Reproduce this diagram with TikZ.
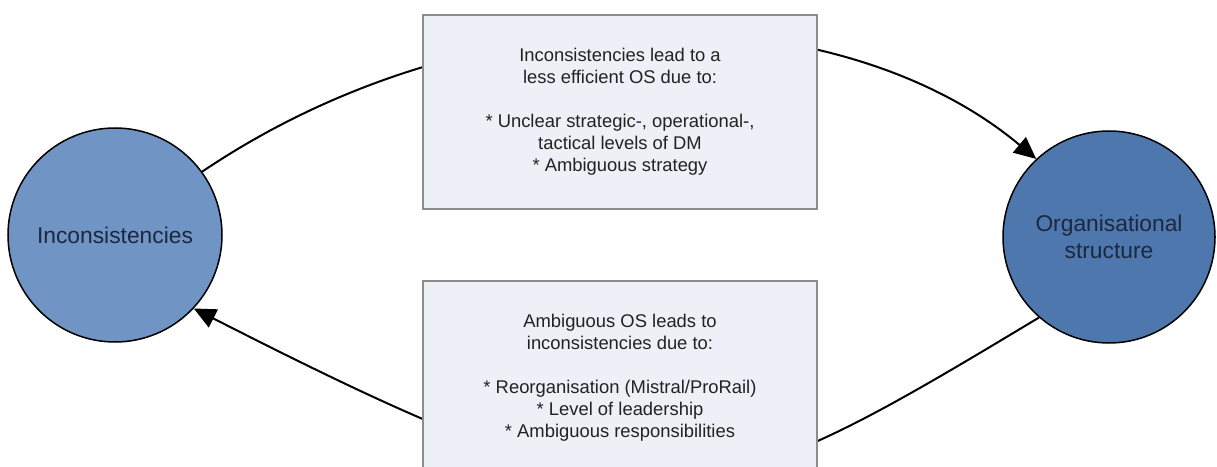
\documentclass[tikz,border=0pt]{standalone}
\usepackage{fontspec}
\setmainfont{Liberation Sans}
\usetikzlibrary{arrows.meta}
\definecolor{incfill}{HTML}{7094C4}
\definecolor{orgfill}{HTML}{4E78AD}
\definecolor{circtext}{HTML}{1B2840}
\definecolor{boxfill}{HTML}{EDF0F6}
\definecolor{boxline}{HTML}{8C8C8C}
\definecolor{boxtext}{HTML}{222222}
\tikzset{
  concept/.style={circle, draw=black, line width=1.5pt, inner sep=0pt,
    text=circtext, align=center,
    font=\fontsize{22.8pt}{27pt}\selectfont},
  notebox/.style={rectangle, draw=boxline, fill=boxfill, line width=1.3pt,
    minimum width=394pt, minimum height=194pt, inner sep=0pt,
    text=boxtext, align=center,
    font=\fontsize{18.4pt}{22pt}\selectfont},
  flow/.style={draw=black, line width=2pt,
    -{Triangle[length=22pt,width=20pt]}}
}
\begin{document}
\begin{tikzpicture}[x=1pt,y=1pt]
\useasboundingbox (0,0) rectangle (1217,466);
\clip (0,0) rectangle (1217,466);
\fill[white] (0,0) rectangle (1217,466);

\node[concept, fill=incfill, minimum size=214pt] (inc) at (115,231) {Inconsistencies};
\node[concept, fill=orgfill, minimum size=212pt] (org) at (1109,229) {Organisational\\structure};

% feedback loop between the two concepts
\draw[flow] (inc.36) .. controls +(34:340) and +(140:250) .. (org.133);
\draw[flow] (org.229) .. controls +(211:400) and +(-27:520) .. (inc.317);

% explanation boxes sitting on the arcs
\node[notebox] (topnote) at (620,354) {Inconsistencies lead to a\\less efficient OS due to:\\[22pt]
* Unclear strategic-, operational-,\\tactical levels of DM\\* Ambiguous strategy};
\node[notebox] (botnote) at (620,88) {Ambiguous OS leads to\\inconsistencies due to:\\[22pt]
* Reorganisation (Mistral/ProRail)\\* Level of leadership\\* Ambiguous responsibilities};
\end{tikzpicture}
\end{document}
